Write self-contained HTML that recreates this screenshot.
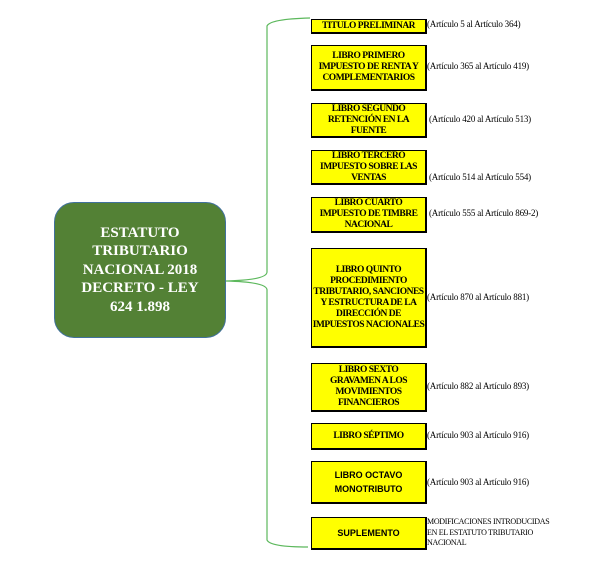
<!DOCTYPE html>
<html><head><meta charset="utf-8"><style>
body{margin:0;background:#fff;width:600px;height:565px;position:relative;overflow:hidden;font-family:"Liberation Serif",serif}
.b{position:absolute;left:311px;width:113px;background:#ffff00;border:1px solid #000;border-right-width:2px;border-bottom-width:2px;display:flex;align-items:center;justify-content:center;text-align:center;font-weight:bold;font-size:9.5px;line-height:11px;letter-spacing:-0.5px;white-space:nowrap;font-family:"Liberation Serif",serif}
.s{font-family:"Liberation Sans",sans-serif;font-size:9px;line-height:14px;letter-spacing:0}
.t{position:absolute;left:427px;font-size:9px;white-space:nowrap;letter-spacing:-0.2px}
.n{position:absolute;left:54px;top:202px;width:170px;height:134px;background:#538135;border:1px solid #41719c;border-radius:20px;color:#fff;font-weight:bold;font-size:15px;line-height:18.5px;display:flex;align-items:center;justify-content:center;text-align:center}
</style></head><body>
<svg width="600" height="565" style="position:absolute;left:0;top:0">
<path d="M310 18 Q270 19 267 26 L267 272 Q267 280 226 281 Q267 282 267 290 L267 540 Q270 547 308 547" fill="none" stroke="#5cb85c" stroke-width="1.2"/>
</svg>
<div class="n">ESTATUTO<br>TRIBUTARIO<br>NACIONAL 2018<br>DECRETO - LEY<br>624 1.898</div>
<div class="b" style="top:19px;height:12px">TITULO PRELIMINAR</div>
<div class="b" style="top:45px;height:43px">LIBRO PRIMERO<br>IMPUESTO DE RENTA Y<br>COMPLEMENTARIOS</div>
<div class="b" style="top:103px;height:32px">LIBRO SEGUNDO<br>RETENCIÓN EN LA<br>FUENTE</div>
<div class="b" style="top:150px;height:32px">LIBRO TERCERO<br>IMPUESTO SOBRE LAS<br>VENTAS</div>
<div class="b" style="top:197px;height:33px">LIBRO CUARTO<br>IMPUESTO DE TIMBRE<br>NACIONAL</div>
<div class="b" style="top:248px;height:97px">LIBRO QUINTO<br>PROCEDIMIENTO<br>TRIBUTARIO, SANCIONES<br>Y ESTRUCTURA DE LA<br>DIRECCIÓN DE<br>IMPUESTOS NACIONALES</div>
<div class="b" style="top:363px;height:46px">LIBRO SEXTO<br>GRAVAMEN A LOS<br>MOVIMIENTOS<br>FINANCIEROS</div>
<div class="b" style="top:423px;height:24px">LIBRO SÉPTIMO</div>
<div class="b s" style="top:461px;height:40px">LIBRO OCTAVO<br>MONOTRIBUTO</div>
<div class="b s" style="top:517px;height:30px">SUPLEMENTO</div>
<div class="t" style="top:19px">(Artículo 5 al Artículo 364)</div>
<div class="t" style="top:61px">(Artículo 365 al Artículo 419)</div>
<div class="t" style="top:114px;left:429px">(Artículo 420 al Artículo 513)</div>
<div class="t" style="top:172px;left:429px">(Artículo 514 al Artículo 554)</div>
<div class="t" style="top:208px;left:429px">(Artículo 555 al Artículo 869-2)</div>
<div class="t" style="top:292px">(Artículo 870 al Artículo 881)</div>
<div class="t" style="top:381px">(Artículo 882 al Artículo 893)</div>
<div class="t" style="top:430px">(Artículo 903 al Artículo 916)</div>
<div class="t" style="top:477px">(Artículo 903 al Artículo 916)</div>
<div class="t" style="top:517px;font-size:8px;line-height:10.5px;letter-spacing:-0.3px">MODIFICACIONES INTRODUCIDAS<br>EN EL ESTATUTO TRIBUTARIO<br>NACIONAL</div>
</body></html>
